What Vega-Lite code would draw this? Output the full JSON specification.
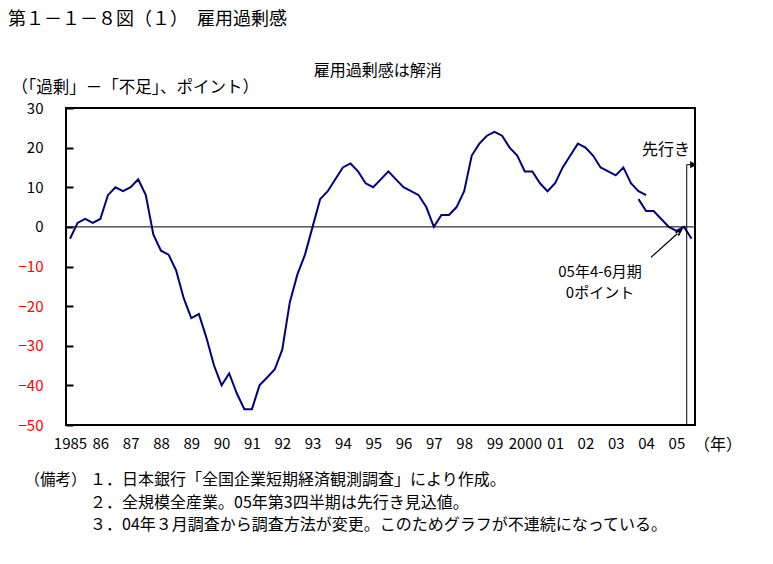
{
  "$schema": "https://vega.github.io/schema/vega-lite/v6.json",
  "width": 629,
  "height": 317,
  "autosize": {"type": "none"},
  "padding": {"left": 66, "top": 108, "right": 78, "bottom": 139},
  "background": "white",
  "config": {
    "view": {"stroke": "black", "strokeWidth": 2},
    "font": "Noto Sans CJK JP",
    "text": {"font": "Noto Sans CJK JP", "color": "black"}
  },
  "data": {"values": [{}]},
  "resolve": {"axis": {"x": "independent", "y": "independent"}},
  "layer": [
    {
      "data": {
        "values": [
          {"t": 1985.0, "v": -3, "s": "旧"}, {"t": 1985.25, "v": 1, "s": "旧"}, {"t": 1985.5, "v": 2, "s": "旧"}, {"t": 1985.75, "v": 1, "s": "旧"},
          {"t": 1986.0, "v": 2, "s": "旧"}, {"t": 1986.25, "v": 8, "s": "旧"}, {"t": 1986.5, "v": 10, "s": "旧"}, {"t": 1986.75, "v": 9, "s": "旧"},
          {"t": 1987.0, "v": 10, "s": "旧"}, {"t": 1987.25, "v": 12, "s": "旧"}, {"t": 1987.5, "v": 8, "s": "旧"}, {"t": 1987.75, "v": -2, "s": "旧"},
          {"t": 1988.0, "v": -6, "s": "旧"}, {"t": 1988.25, "v": -7, "s": "旧"}, {"t": 1988.5, "v": -11, "s": "旧"}, {"t": 1988.75, "v": -18, "s": "旧"},
          {"t": 1989.0, "v": -23, "s": "旧"}, {"t": 1989.25, "v": -22, "s": "旧"}, {"t": 1989.5, "v": -28, "s": "旧"}, {"t": 1989.75, "v": -35, "s": "旧"},
          {"t": 1990.0, "v": -40, "s": "旧"}, {"t": 1990.25, "v": -37, "s": "旧"}, {"t": 1990.5, "v": -42, "s": "旧"}, {"t": 1990.75, "v": -46, "s": "旧"},
          {"t": 1991.0, "v": -46, "s": "旧"}, {"t": 1991.25, "v": -40, "s": "旧"}, {"t": 1991.5, "v": -38, "s": "旧"}, {"t": 1991.75, "v": -36, "s": "旧"},
          {"t": 1992.0, "v": -31, "s": "旧"}, {"t": 1992.25, "v": -19, "s": "旧"}, {"t": 1992.5, "v": -12, "s": "旧"}, {"t": 1992.75, "v": -7, "s": "旧"},
          {"t": 1993.0, "v": 0, "s": "旧"}, {"t": 1993.25, "v": 7, "s": "旧"}, {"t": 1993.5, "v": 9, "s": "旧"}, {"t": 1993.75, "v": 12, "s": "旧"},
          {"t": 1994.0, "v": 15, "s": "旧"}, {"t": 1994.25, "v": 16, "s": "旧"}, {"t": 1994.5, "v": 14, "s": "旧"}, {"t": 1994.75, "v": 11, "s": "旧"},
          {"t": 1995.0, "v": 10, "s": "旧"}, {"t": 1995.25, "v": 12, "s": "旧"}, {"t": 1995.5, "v": 14, "s": "旧"}, {"t": 1995.75, "v": 12, "s": "旧"},
          {"t": 1996.0, "v": 10, "s": "旧"}, {"t": 1996.25, "v": 9, "s": "旧"}, {"t": 1996.5, "v": 8, "s": "旧"}, {"t": 1996.75, "v": 5, "s": "旧"},
          {"t": 1997.0, "v": 0, "s": "旧"}, {"t": 1997.25, "v": 3, "s": "旧"}, {"t": 1997.5, "v": 3, "s": "旧"}, {"t": 1997.75, "v": 5, "s": "旧"},
          {"t": 1998.0, "v": 9, "s": "旧"}, {"t": 1998.25, "v": 18, "s": "旧"}, {"t": 1998.5, "v": 21, "s": "旧"}, {"t": 1998.75, "v": 23, "s": "旧"},
          {"t": 1999.0, "v": 24, "s": "旧"}, {"t": 1999.25, "v": 23, "s": "旧"}, {"t": 1999.5, "v": 20, "s": "旧"}, {"t": 1999.75, "v": 18, "s": "旧"},
          {"t": 2000.0, "v": 14, "s": "旧"}, {"t": 2000.25, "v": 14, "s": "旧"}, {"t": 2000.5, "v": 11, "s": "旧"}, {"t": 2000.75, "v": 9, "s": "旧"},
          {"t": 2001.0, "v": 11, "s": "旧"}, {"t": 2001.25, "v": 15, "s": "旧"}, {"t": 2001.5, "v": 18, "s": "旧"}, {"t": 2001.75, "v": 21, "s": "旧"},
          {"t": 2002.0, "v": 20, "s": "旧"}, {"t": 2002.25, "v": 18, "s": "旧"}, {"t": 2002.5, "v": 15, "s": "旧"}, {"t": 2002.75, "v": 14, "s": "旧"},
          {"t": 2003.0, "v": 13, "s": "旧"}, {"t": 2003.25, "v": 15, "s": "旧"}, {"t": 2003.5, "v": 11, "s": "旧"}, {"t": 2003.75, "v": 9, "s": "旧"},
          {"t": 2004.0, "v": 8, "s": "旧"},
          {"t": 2003.75, "v": 7, "s": "新"},
          {"t": 2004.0, "v": 4, "s": "新"}, {"t": 2004.25, "v": 4, "s": "新"}, {"t": 2004.5, "v": 2, "s": "新"}, {"t": 2004.75, "v": 0, "s": "新"},
          {"t": 2005.0, "v": -1, "s": "新"}, {"t": 2005.25, "v": 0, "s": "新"}, {"t": 2005.5, "v": -3, "s": "新"}
        ]
      },
      "mark": {"type": "line", "color": "#000080", "strokeWidth": 2},
      "encoding": {
        "x": {
          "field": "t", "type": "quantitative",
          "scale": {"domain": [1984.868, 2005.613], "nice": false, "zero": false},
          "axis": {
            "orient": "bottom",
            "values": [1985, 1986, 1987, 1988, 1989, 1990, 1991, 1992, 1993, 1994, 1995, 1996, 1997, 1998, 1999, 2000, 2001, 2002, 2003, 2004, 2005],
            "labelExpr": "datum.value == 1985 || datum.value == 2000 ? format(datum.value, 'd') : substring(format(datum.value, 'd'), 2, 4)",
            "ticks": false, "tickSize": 0, "domain": false, "grid": false,
            "labelPadding": 11, "labelFontSize": 15, "labelColor": "black",
            "labelOverlap": false, "labelFlush": false, "title": null
          }
        },
        "y": {
          "field": "v", "type": "quantitative",
          "scale": {"domain": [-50, 30], "nice": false, "zero": false},
          "axis": {
            "orient": "left",
            "offset": -7,
            "zindex": 1,
            "values": [-50, -40, -30, -20, -10, 0, 10, 20, 30],
            "ticks": true, "tickSize": 7, "tickColor": "#000000", "tickWidth": 2, "tickOpacity": 1,
            "labelPadding": 23, "domain": false, "grid": false,
            "labelFontSize": 15,
            "labelColor": {"condition": {"test": "datum.value < 0", "value": "#ff0000"}, "value": "black"},
            "labelOverlap": false, "labelFlush": false,
            "title": "（「過剰」－「不足」、ポイント）",
            "titleAngle": 0, "titleAlign": "left", "titleBaseline": "middle",
            "titleX": -62, "titleY": -21, "titleFontSize": 16.5, "titleFontWeight": "normal", "titleColor": "black"
          }
        },
        "detail": {"field": "s", "type": "nominal"}
      }
    },
    {
      "mark": {"type": "rule", "color": "black", "strokeWidth": 1},
      "encoding": {
        "y": {"datum": 0, "type": "quantitative", "axis": null}
      }
    },
    {
      "mark": {"type": "rule", "color": "black", "strokeWidth": 1},
      "encoding": {
        "x": {"datum": 2005.34, "axis": null},
        "y": {"datum": 15.7, "axis": null},
        "y2": {"datum": -50}
      }
    },
    {
      "mark": {"type": "rule", "color": "black", "strokeWidth": 1},
      "encoding": {
        "x": {"datum": 2005.34, "axis": null},
        "x2": {"datum": 2005.56},
        "y": {"datum": 15.7, "axis": null}
      }
    },
    {
      "mark": {"type": "point", "shape": "triangle-right", "filled": true, "color": "black", "size": 55, "opacity": 1},
      "encoding": {
        "x": {"datum": 2005.56, "axis": null},
        "y": {"datum": 15.7, "axis": null}
      }
    },
    {
      "mark": {"type": "point", "shape": "M -0.2 2 L 0.2 2 L 0.2 14.4 L -0.2 14.4 Z M 0 0 L -1 2.8 L 1 2.8 Z", "filled": true, "color": "#000000", "fill": "#000000", "fillOpacity": 1, "size": 36, "angle": 48, "opacity": 1, "strokeWidth": 0},
      "encoding": {
        "x": {"datum": 2005.22, "axis": null},
        "y": {"datum": -0.4, "axis": null}
      }
    },
    {
      "mark": {"type": "text", "text": "第１－１－８図（１）　雇用過剰感", "align": "left", "baseline": "middle", "fontSize": 18},
      "encoding": {
        "x": {"datum": 1982.955, "axis": null},
        "y": {"datum": 52.3, "axis": null}
      }
    },
    {
      "mark": {"type": "text", "text": "雇用過剰感は解消", "align": "center", "baseline": "middle", "fontSize": 16},
      "encoding": {
        "x": {"datum": 1995.15, "axis": null},
        "y": {"datum": 39.4, "axis": null}
      }
    },
    {
      "mark": {"type": "text", "text": "先行き", "align": "center", "baseline": "middle", "fontSize": 16},
      "encoding": {
        "x": {"datum": 2004.657, "axis": null},
        "y": {"datum": 19.47, "axis": null}
      }
    },
    {
      "mark": {"type": "text", "text": ["05年4-6月期", "0ポイント"], "align": "center", "baseline": "middle", "fontSize": 15, "lineHeight": 21},
      "encoding": {
        "x": {"datum": 2002.48, "axis": null},
        "y": {"datum": -11.4, "axis": null}
      }
    },
    {
      "mark": {"type": "text", "text": "（年）", "align": "center", "baseline": "middle", "fontSize": 16},
      "encoding": {
        "x": {"datum": 2006.37, "axis": null},
        "y": {"datum": -55.0, "axis": null}
      }
    },
    {
      "mark": {"type": "text", "text": "（備考）", "align": "left", "baseline": "middle", "fontSize": 15.5},
      "encoding": {
        "x": {"datum": 1983.5, "axis": null},
        "y": {"datum": -63.9, "axis": null}
      }
    },
    {
      "mark": {"type": "text", "text": ["１．日本銀行「全国企業短期経済観測調査」により作成。", "２．全規模全産業。05年第3四半期は先行き見込値。", "３．04年３月調査から調査方法が変更。このためグラフが不連続になっている。"], "align": "left", "baseline": "middle", "fontSize": 16, "lineHeight": 22.5},
      "encoding": {
        "x": {"datum": 1985.66, "axis": null},
        "y": {"datum": -63.9, "axis": null}
      }
    }
  ]
}
